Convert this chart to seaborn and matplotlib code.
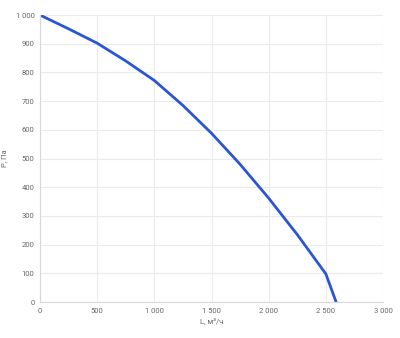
import matplotlib
matplotlib.use("Agg")
import matplotlib.pyplot as plt
import seaborn as sns
import pandas as pd
from matplotlib.ticker import FuncFormatter

flow = [0, 250, 500, 750, 1000, 1250, 1500, 1750, 2000, 2250, 2500, 2590]
pressure = [1000, 952, 902, 840, 772, 685, 588, 480, 362, 235, 98, 0]
x_ticks = [0, 500, 1000, 1500, 2000, 2500, 3000]
y_ticks = [0, 100, 200, 300, 400, 500, 600, 700, 800, 900, 1000]

df = pd.DataFrame({"L": flow, "P": pressure})

sns.set_theme(style="whitegrid")
plt.rcParams['font.family'] = ['Roboto', 'DejaVu Sans']

fig = plt.figure(figsize=(4.0, 3.38), dpi=100)
ax = fig.add_axes([0.1, 0.1065, 0.8575, 0.849])
sns.lineplot(data=df, x="L", y="P", ax=ax, color="#2a56d6", linewidth=2.0)

ax.set_xlim(0, 3000)
ax.set_ylim(0, 1000)
ax.set_xticks(x_ticks)
ax.set_yticks(y_ticks)
fmt = FuncFormatter(lambda v, p: f"{int(v):,}".replace(",", " "))
ax.xaxis.set_major_formatter(fmt)
ax.yaxis.set_major_formatter(fmt)
ax.tick_params(labelsize=5.5, colors="#666666", length=0, pad=4)
ax.grid(True, color="#ebebeb", linewidth=0.8)
for s in ["top", "right"]:
    ax.spines[s].set_visible(False)
for s in ["left", "bottom"]:
    ax.spines[s].set_color("#d8d8d8")
    ax.spines[s].set_linewidth(0.8)
ax.set_xlabel("L, м³/ч", fontsize=5.5, color="#666666", labelpad=3)
ax.set_ylabel("P, Па", fontsize=5.5, color="#666666", labelpad=6)

fig.savefig("out.png", dpi=100, facecolor="white")
